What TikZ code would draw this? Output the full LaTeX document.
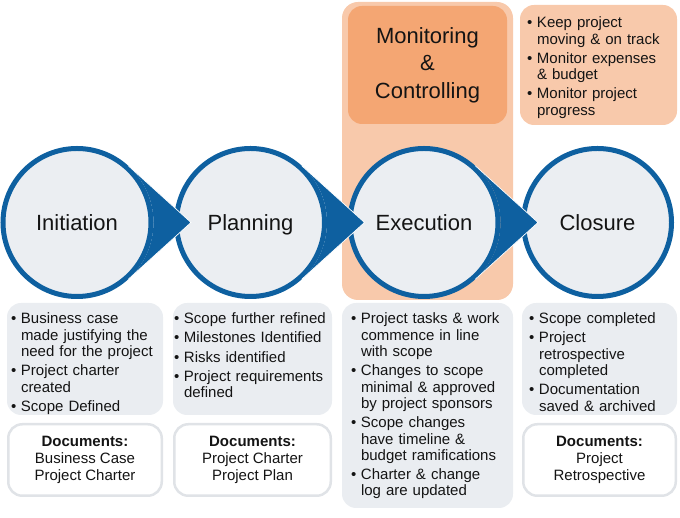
\documentclass[tikz,border=0pt]{standalone}
\usepackage{fontspec}
\setmainfont{Liberation Sans}
\usetikzlibrary{positioning}

\definecolor{procblue}{RGB}{14,96,160}
\definecolor{phasefill}{RGB}{235,238,242}
\definecolor{listfill}{RGB}{234,237,241}
\definecolor{docline}{RGB}{224,227,231}
\definecolor{lightorange}{RGB}{248,201,171}
\definecolor{darkorange}{RGB}{244,166,115}
\definecolor{ink}{RGB}{20,20,20}

% one bullet item, lines broken by hand with \newline
\newcommand{\itm}[1]{\setlength{\parskip}{2.7pt}\noindent\hangindent=10pt\hangafter=1\makebox[10pt][l]{\textbullet}#1\par}

\begin{document}
\begin{tikzpicture}[
    x=1pt, y=1pt,
    node distance=173.5pt,
    on grid,
    text=ink,
    phase/.style={
        circle,
        draw=procblue,
        fill=phasefill,
        line width=5pt,
        minimum size=148pt,
        text height=15.8pt,
        text depth=0pt,
        font=\fontsize{22}{26}\selectfont
    },
    panel/.style={
        rounded corners=14pt,
        fill=#1
    },
    panel/.default=listfill,
    docbox/.style={
        rounded corners=14pt,
        draw=docline,
        line width=2.5pt,
        fill=white,
        align=center,
        minimum height=71.5pt,
        font=\fontsize{15}{16.7}\selectfont
    },
    list/.style={
        anchor=north west,
        align=left,
        inner xsep=5pt,
        inner ysep=10pt,
        font=\fontsize{15}{16.4}\selectfont
    }]

    \useasboundingbox (0,0) rectangle (680,518);

    % monitoring & controlling runs behind execution
    \node[panel=lightorange, rounded corners=16pt, minimum width=171pt, minimum height=298pt] (mc-band) at (427.5,367) {};
    \node[panel=darkorange, minimum width=159pt, minimum height=118pt, align=center,
          font=\fontsize{22}{27.5}\selectfont] (mc) at (427.5,453) {Monitoring\\\&\\Controlling};
    \node[panel=lightorange, minimum width=157pt, minimum height=120pt] (mc-panel) at (598.5,453) {};
    \node[list, text width=148pt, xshift=2pt, yshift=-2pt] (mc-list) at (mc-panel.north west) {
        \itm{Keep project\newline moving \& on track}
        \itm{Monitor expenses\newline \& budget}
        \itm{Monitor project\newline progress}};

    % phases
    \node[phase] (ini) at (77,295.5) {Initiation};
    \node[phase, right=of ini] (pla) {Planning};
    \node[phase, right=of pla] (exe) {Execution};
    \node[phase, right=of exe] (clo) {Closure};

    \coordinate[right=114pt of ini] (ini-tip);
    \coordinate[right=114pt of pla] (pla-tip);
    \coordinate[right=114pt of exe] (exe-tip);

    \foreach \p in {ini,pla,exe}{
        \fill[procblue] (\p.48) -- (\p-tip) -- (\p.-48) arc[start angle=-48, end angle=48, radius=76.5pt] -- cycle;
        \draw[white, line width=0.7pt] (\p.48) -- (\p-tip) -- (\p.-48);
    }

    % tasks of each phase
    \node[panel, minimum width=156pt, minimum height=112pt] (ini-panel) at (85,159) {};
    \node[list, text width=148pt, xshift=-1pt] (ini-list) at (ini-panel.north west) {
        \itm{Business case\newline made justifying the\newline need for the project}
        \itm{Project charter\newline created}
        \itm{Scope Defined}};

    \node[panel, minimum width=159pt, minimum height=112pt] (pla-panel) at (252.5,159) {};
    \node[list, text width=152pt, xshift=-4pt] (pla-list) at (pla-panel.north west) {
        \itm{Scope further refined}
        \itm{Milestones Identified}
        \itm{Risks identified}
        \itm{Project requirements\newline defined}};

    \node[panel, minimum width=171pt, minimum height=205pt] (exe-panel) at (427.5,112.5) {};
    \node[list, text width=158pt, xshift=4pt] (exe-list) at (exe-panel.north west) {
        \itm{Project tasks \& work\newline commence in line\newline with scope}
        \itm{Changes to scope\newline minimal \& approved\newline by project sponsors}
        \itm{Scope changes\newline have timeline \&\newline budget ramifications}
        \itm{Charter \& change\newline log are updated}};

    \node[panel, minimum width=155pt, minimum height=112pt] (clo-panel) at (599.5,159) {};
    \node[list, text width=145pt, xshift=2pt] (clo-list) at (clo-panel.north west) {
        \itm{Scope completed}
        \itm{Project\newline retrospective\newline completed}
        \itm{Documentation\newline saved \& archived}};

    % documents
    \node[docbox, minimum width=153.5pt] (ini-docs) at (85,58) {\textbf{Documents:}\\Business Case\\Project Charter};
    \node[docbox, minimum width=156.5pt] (pla-docs) at (252.5,58) {\textbf{Documents:}\\Project Charter\\Project Plan};
    \node[docbox, minimum width=152.5pt] (clo-docs) at (599.5,58) {\textbf{Documents:}\\Project\\Retrospective};
\end{tikzpicture}
\end{document}
